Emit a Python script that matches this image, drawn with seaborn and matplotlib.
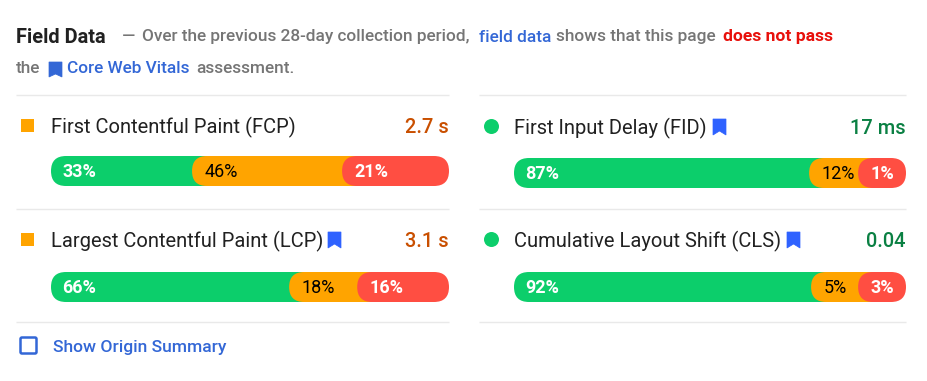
import matplotlib
matplotlib.use("Agg")
import matplotlib.pyplot as plt
import seaborn as sns
from matplotlib.patches import FancyBboxPatch, Polygon, Circle, Rectangle

# Data
metrics = ["First Contentful Paint (FCP)", "First Input Delay (FID)",
           "Largest Contentful Paint (LCP)", "Cumulative Layout Shift (CLS)"]
values = ["2.7 s", "17 ms", "3.1 s", "0.04"]
ratings = ["average", "fast", "average", "fast"]
has_bookmark = [False, True, True, True]
bands = ["fast", "average", "slow"]

# Percentages printed on the bars
fcp_pct = [33, 46, 21]
fid_pct = [87, 12, 1]
lcp_pct = [66, 18, 16]
cls_pct = [92, 5, 3]

# Drawn length of each segment, % of the track. In the reference these do not
# follow the printed percentages, so they are read separately.
fcp_len = [38.7, 37.7, 23.6]
fid_len = [78.6, 12.5, 8.9]
lcp_len = [63.1, 17.1, 19.8]
cls_len = [79.1, 12.0, 8.9]

GREEN, ORANGE, RED = "#0cce6b", "#ffa400", "#ff4e42"
band_colors = {"fast": GREEN, "average": ORANGE, "slow": RED}
label_colors = {"fast": "white", "average": "black", "slow": "white"}
value_colors = {"fast": "#0a8043", "average": "#c94f00"}
GREY, LINK, DARK, RULE = "#757575", "#3367d6", "#212121", "#e9e9e9"
MARK_BLUE = "#2f62ff"

W, H = 928, 381
px = 0.72  # points per pixel at dpi 100
sns.set_theme(style="white")
plt.rcParams["font.family"] = ["Roboto", "DejaVu Sans"]

fig = plt.figure(figsize=(W / 100, H / 100), dpi=100, facecolor="white")

# Overlay in pixel coordinates for the page furniture
page = fig.add_axes([0, 0, 1, 1])
page.set_xlim(0, W)
page.set_ylim(H, 0)
page.axis("off")


def bookmark(x, y, w=13, h=16):
    page.add_patch(Polygon([(x, y), (x + w, y), (x + w, y + h), (x + w / 2, y + h - 4), (x, y + h)],
                           closed=True, color=MARK_BLUE, lw=0.5))


def bar_axes(x, y, w, h=30):
    ax = fig.add_axes([x / W, 1 - (y + h) / H, w / W, h / H])
    return ax


def draw_bar(name, pct, lengths, x, y, w, h=30):
    ax = bar_axes(x, y, w, h)
    ax.patch.set_alpha(0)
    overlap = 13 * 100 / w
    round_x = 15 * 100 / w
    start = 0
    for i, band in enumerate(bands):
        sns.barplot(x=[lengths[i]], y=[name], color=band_colors[band], saturation=1,
                    width=1, ax=ax)
        bar = ax.patches[-1]
        length = bar.get_width()
        left = start - overlap if i > 0 else 0
        right = start + length + round_x if i < 2 else 100
        bar.remove()
        ax.add_patch(FancyBboxPatch((left, -0.5), right - left, 1,
                                    boxstyle=f"round,pad=0,rounding_size={round_x}",
                                    mutation_aspect=w / (h * 100),
                                    fc=band_colors[band], ec="none", zorder=2 + i))
        ax.annotate(f"{pct[i]}%", (left, 0), xytext=((11.5 if i == 0 else 12.5) * px, 0.7 * px),
                    textcoords="offset points",
                    ha="left", va="center_baseline", fontsize=18 * px, color=label_colors[band],
                    fontweight="bold" if band != "average" else "normal", zorder=10)
        start += length
    ax.set_xlim(0, 100)
    ax.set_ylim(0.5, -0.5)
    ax.axis("off")


# Header
head = [(16, "Field Data", DARK, "bold", 20), (122, "—", GREY, "medium", 17.3),
        (142, "Over the previous 28-day collection period,", GREY, "medium", 17.3),
        (479, "field data", LINK, "medium", 17.3), (556, "shows that this page", GREY, "medium", 17.3),
        (723, "does not pass", "#e8100b", "bold", 17.5)]
for hx, txt, col, wt, size in head:
    page.text(hx, 35.5, txt, color=col, fontweight=wt, fontsize=size * px, va="center_baseline")
line2 = [(16, "the", GREY), (67, "Core Web Vitals", LINK), (196, "assessment.", GREY)]
for hx, txt, col in line2:
    page.text(hx, 67, txt, color=col, fontweight="medium", fontsize=17.3 * px, va="center_baseline")
page.add_patch(Polygon([(49, 62), (62, 62), (62, 77), (55.5, 74), (49, 77)], closed=True, color=LINK, lw=0.5))

# Rules
for ry in [95, 209, 322]:
    page.plot([16, 449], [ry, ry], color=RULE, lw=1, solid_capstyle="butt")
    page.plot([479, 906], [ry, ry], color=RULE, lw=1, solid_capstyle="butt")

# Metric rows
pcts = [fcp_pct, fid_pct, lcp_pct, cls_pct]
lens = [fcp_len, fid_len, lcp_len, cls_len]
cols = [(51, 398), (514, 392), (51, 398), (514, 392)]
bar_tops = [156, 158, 272, 272]
row_y = [126, 127, 240, 240]
icon_x = [None, 713, 328, 787]
for i, name in enumerate(metrics):
    bx, bw = cols[i]
    page.text(bx, row_y[i] - 0.7, name, color=DARK, fontsize=20.2 * px, va="center_baseline")
    page.text(bx + bw, row_y[i] - 0.7, values[i], color=value_colors[ratings[i]], fontsize=20 * px,
              ha="right", va="center_baseline", fontweight="medium")
    if ratings[i] == "average":
        page.add_patch(Rectangle((21, row_y[i] - 7), 13, 13, color=ORANGE, lw=0))
    else:
        page.add_patch(Circle((491.5, row_y[i] - 0.5), 7.5, color=GREEN, lw=0))
    if has_bookmark[i]:
        bookmark(icon_x[i], row_y[i] - 8)
    draw_bar(name, pcts[i], lens[i], bx, bar_tops[i], bw)

# Checkbox row
page.add_patch(FancyBboxPatch((20.5, 337.5), 16, 16, boxstyle="round,pad=0,rounding_size=1.5",
                              fc="none", ec=LINK, lw=2.5 * px))
page.text(53, 346, "Show Origin Summary", color=LINK, fontweight="medium", fontsize=17.5 * px,
          va="center_baseline")

fig.savefig("out.png", dpi=100)
